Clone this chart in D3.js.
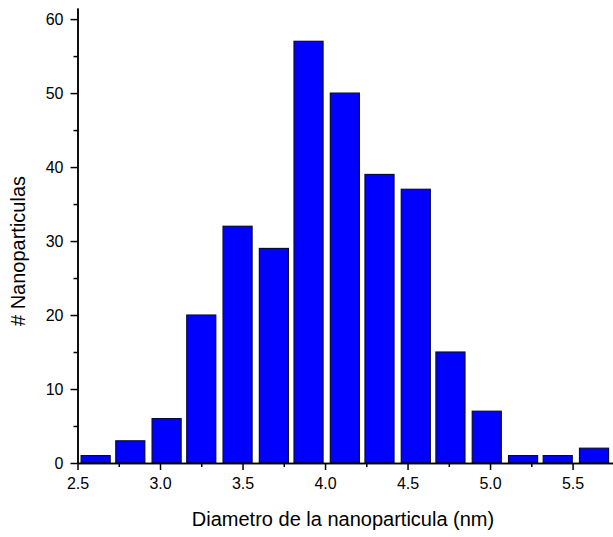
<!DOCTYPE html>
<html>
<head>
<meta charset="utf-8">
<script src="https://cdn.jsdelivr.net/npm/d3@7"></script>
<style>
  body { margin: 0; background: #fff; }
  svg { display: block; }
  .axis path, .axis line { stroke: #000; stroke-width: 1.5; }
</style>
</head>
<body>
<svg id="chart" width="613" height="537"></svg>
<script>
// DATA
const binCenters = [2.61, 2.82, 3.04, 3.25, 3.47, 3.69, 3.90, 4.12, 4.33, 4.55, 4.76, 4.98, 5.20, 5.41, 5.63];
const counts = [1, 3, 6, 20, 32, 29, 57, 50, 39, 37, 15, 7, 1, 1, 2];
const xTicks = [2.5, 3.0, 3.5, 4.0, 4.5, 5.0, 5.5];
const yTicks = [0, 10, 20, 30, 40, 50, 60];

const barWidth = 0.176;
const fontFamily = '"Liberation Sans", Arial, sans-serif';

// SETUP
const svg = d3.select('#chart');
const x = d3.scaleLinear().domain([2.5, 5.745]).range([77.5, 613]);
const y = d3.scaleLinear().domain([0, 61.5]).range([463, 8]);

const data = binCenters.map((c, i) => ({ center: c, value: counts[i] }));

// BARS
svg.selectAll('.bar')
  .data(data)
  .enter()
  .append('rect')
  .attr('class', 'bar')
  .attr('x', d => x(d.center - barWidth / 2))
  .attr('y', d => y(d.value))
  .attr('width', d => x(d.center + barWidth / 2) - x(d.center - barWidth / 2))
  .attr('height', d => y(0) - y(d.value))
  .style('fill', '#0000ff')
  .style('stroke', '#0a0a3a')
  .style('stroke-width', 1.2);

// MINOR TICKS
const xMinor = xTicks.map(t => t + 0.25).filter(t => t < 5.745);
const yMinor = yTicks.map(t => t + 5).filter(t => t < 61.5);

svg.append('g')
  .attr('class', 'axis')
  .attr('transform', 'translate(0,' + y(0) + ')')
  .call(d3.axisBottom(x).tickValues(xMinor).tickSize(4).tickFormat('').tickSizeOuter(0));
svg.append('g')
  .attr('class', 'axis')
  .attr('transform', 'translate(' + x(2.5) + ',0)')
  .call(d3.axisLeft(y).tickValues(yMinor).tickSize(4).tickFormat('').tickSizeOuter(0));

// MAJOR AXES
svg.append('g')
  .attr('class', 'axis axis--x')
  .attr('transform', 'translate(0,' + y(0) + ')')
  .call(d3.axisBottom(x).tickValues(xTicks).tickSize(7).tickSizeOuter(0).tickPadding(8).tickFormat(d3.format('.1f')))
  .attr('font-family', fontFamily)
  .attr('font-size', 16);
svg.append('g')
  .attr('class', 'axis axis--y')
  .attr('transform', 'translate(' + x(2.5) + ',0)')
  .call(d3.axisLeft(y).tickValues(yTicks).tickSize(7).tickSizeOuter(0).tickPadding(7))
  .attr('font-family', fontFamily)
  .attr('font-size', 16);

svg.selectAll('.axis--x text, .axis--y text').attr('fill', '#000');

// LABELS
svg.append('text')
  .attr('x', 343)
  .attr('y', 526)
  .attr('text-anchor', 'middle')
  .style('font-family', fontFamily)
  .style('font-size', '20px')
  .text('Diametro de la nanoparticula (nm)');

svg.append('text')
  .attr('transform', 'translate(25,251)rotate(-90)')
  .attr('text-anchor', 'middle')
  .style('font-family', fontFamily)
  .style('font-size', '20px')
  .text('# Nanoparticulas');
</script>
</body>
</html>
